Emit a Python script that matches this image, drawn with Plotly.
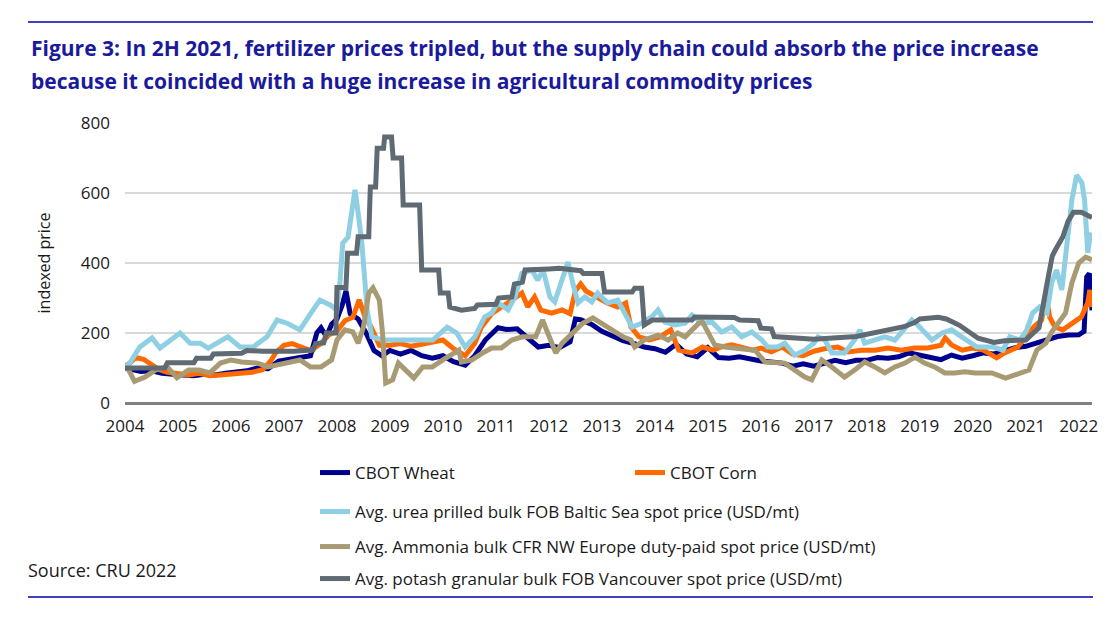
import plotly.graph_objects as go

# ---------------- data ----------------
wheat_x = [2004.0, 2004.15, 2004.3, 2004.5, 2004.7, 2004.9, 2005.1, 2005.3, 2005.5, 2005.7, 2005.9,
           2006.1, 2006.3, 2006.5, 2006.7, 2006.9, 2007.1, 2007.3, 2007.5, 2007.62, 2007.7, 2007.8,
           2007.9, 2008.0, 2008.1, 2008.17, 2008.25, 2008.4, 2008.55, 2008.7, 2008.85, 2009.0, 2009.2,
           2009.4, 2009.6, 2009.8, 2010.0, 2010.2, 2010.42, 2010.6, 2010.8, 2011.04, 2011.2, 2011.4,
           2011.6, 2011.8, 2012.0, 2012.2, 2012.4, 2012.5, 2012.6, 2012.8, 2013.0, 2013.2, 2013.4,
           2013.6, 2013.8, 2014.0, 2014.2, 2014.4, 2014.6, 2014.8, 2015.0, 2015.2, 2015.4, 2015.6,
           2015.8, 2016.0, 2016.2, 2016.4, 2016.6, 2016.8, 2017.0, 2017.2, 2017.4, 2017.6, 2017.8,
           2018.0, 2018.2, 2018.4, 2018.6, 2018.8, 2019.0, 2019.2, 2019.4, 2019.6, 2019.8, 2020.0,
           2020.2, 2020.4, 2020.6, 2020.8, 2021.0, 2021.2, 2021.4, 2021.6, 2021.8, 2022.0, 2022.1,
           2022.15, 2022.2, 2022.25]
wheat_y = [100, 95, 90, 92, 85, 82, 80, 78, 82, 80, 85,
           88, 92, 100, 98, 120, 125, 130, 135, 200, 215, 190,
           225, 240, 280, 320, 255, 240, 200, 150, 135, 150, 140,
           150, 135, 128, 135, 118, 108, 135, 180, 215, 210, 212,
           185, 160, 165, 158, 175, 240, 238, 225, 205, 190, 178,
           170, 160, 155, 145, 168, 140, 132, 158, 130, 128, 132,
           125, 120, 117, 114, 105, 112, 105, 114, 122, 115, 122,
           122, 130, 128, 132, 143, 137, 132, 124, 137, 128, 135,
           143, 140, 150, 158, 162, 172, 180, 190, 194, 195, 205,
           360, 370, 265]

corn_x = [2004.0, 2004.1, 2004.2, 2004.35, 2004.5, 2004.65, 2004.8, 2005.0, 2005.2, 2005.4, 2005.6,
          2005.8, 2006.0, 2006.2, 2006.4, 2006.6, 2006.75, 2006.85, 2007.0, 2007.15, 2007.3, 2007.5,
          2007.7, 2007.85, 2008.0, 2008.15, 2008.3, 2008.42, 2008.52, 2008.65, 2008.8, 2009.0, 2009.2,
          2009.4, 2009.6, 2009.8, 2010.0, 2010.2, 2010.42, 2010.6, 2010.72, 2010.92, 2011.1, 2011.3,
          2011.49, 2011.6, 2011.73, 2011.85, 2012.05, 2012.25, 2012.4, 2012.5, 2012.6, 2012.7, 2012.9,
          2013.1, 2013.3, 2013.45, 2013.55, 2013.7, 2013.9, 2014.1, 2014.3, 2014.45, 2014.7, 2014.9,
          2015.1, 2015.25, 2015.45, 2015.65, 2015.85, 2016.0, 2016.2, 2016.4, 2016.6, 2016.8, 2017.0,
          2017.2, 2017.45, 2017.65, 2017.9, 2018.15, 2018.4, 2018.65, 2018.9, 2019.15, 2019.4, 2019.48,
          2019.6, 2019.8, 2020.0, 2020.2, 2020.45, 2020.6, 2020.85, 2021.0, 2021.15, 2021.3, 2021.38,
          2021.45, 2021.55, 2021.7, 2021.9, 2022.05, 2022.17, 2022.21, 2022.25]
corn_y = [105, 115, 130, 125, 110, 95, 88, 85, 80, 85, 78,
          80, 82, 85, 88, 95, 120, 145, 165, 170, 160, 150,
          170, 195, 205, 235, 245, 295, 250, 215, 165, 165, 170,
          162, 168, 175, 180, 155, 135, 170, 215, 255, 275, 294,
          314, 275, 303, 265, 257, 266, 255, 320, 340, 320, 303,
          286, 274, 286, 217, 189, 180, 189, 209, 151, 143, 160,
          151, 160, 166, 160, 151, 157, 146, 160, 140, 135, 148,
          155, 160, 146, 151, 151, 157, 151, 157, 157, 165, 186,
          166, 151, 157, 151, 129, 143, 160, 189, 217, 237, 314,
          246, 217, 209, 228, 246, 286, 323, 274]

urea_x = [2004.0, 2004.09, 2004.28, 2004.51, 2004.66, 2004.79, 2005.04, 2005.23, 2005.42, 2005.57,
          2005.74, 2005.94, 2006.17, 2006.42, 2006.68, 2006.87, 2007.06, 2007.3, 2007.55, 2007.68,
          2007.87, 2008.0, 2008.06, 2008.11, 2008.21, 2008.28, 2008.34, 2008.4, 2008.47, 2008.57,
          2008.66, 2008.87, 2009.19, 2009.51, 2009.81, 2010.08, 2010.26, 2010.42, 2010.6, 2010.79,
          2010.92, 2011.04, 2011.23, 2011.36, 2011.49, 2011.68, 2011.79, 2011.89, 2012.02, 2012.11,
          2012.25, 2012.3, 2012.36, 2012.45, 2012.55, 2012.68, 2012.81, 2012.92, 2013.11, 2013.3,
          2013.43, 2013.57, 2013.75, 2013.94, 2014.06, 2014.19, 2014.38, 2014.57, 2014.7, 2014.89,
          2015.08, 2015.26, 2015.45, 2015.64, 2015.83, 2016.02, 2016.13, 2016.32, 2016.45, 2016.64,
          2016.83, 2017.0, 2017.08, 2017.21, 2017.34, 2017.58, 2017.77, 2017.87, 2017.96, 2018.15,
          2018.34, 2018.53, 2018.72, 2018.85, 2018.96, 2019.09, 2019.23, 2019.42, 2019.6, 2019.79,
          2019.98, 2020.08, 2020.38, 2020.57, 2020.7, 2020.89, 2021.02, 2021.13, 2021.26, 2021.4,
          2021.49, 2021.58, 2021.68, 2021.77, 2021.87, 2021.96, 2022.06, 2022.11, 2022.17, 2022.21,
          2022.25]
urea_y = [100, 114, 160, 186, 157, 171, 200, 171, 171, 157,
          171, 189, 160, 160, 189, 237, 228, 209, 266, 294,
          280, 266, 351, 457, 474, 551, 609, 543, 457, 266,
          189, 180, 180, 177, 180, 217, 200, 160, 189, 246,
          257, 286, 266, 303, 371, 380, 351, 380, 303, 289,
          351, 371, 403, 343, 286, 303, 289, 314, 286, 294,
          257, 217, 228, 246, 266, 231, 223, 228, 251, 228,
          231, 203, 217, 189, 203, 180, 160, 160, 171, 137,
          151, 171, 189, 180, 143, 143, 180, 209, 171, 180,
          189, 180, 217, 237, 223, 200, 180, 200, 209, 189,
          171, 160, 160, 151, 189, 180, 209, 257, 274, 257,
          343, 380, 323, 437, 580, 651, 629, 580, 429, 474,
          486]

ammonia_x = [2004.0, 2004.07, 2004.18, 2004.38, 2004.57, 2004.8, 2004.98, 2005.2, 2005.4, 2005.6,
             2005.8, 2006.0, 2006.2, 2006.5, 2006.7, 2006.9, 2007.1, 2007.3, 2007.5, 2007.7,
             2007.9, 2008.0, 2008.15, 2008.3, 2008.4, 2008.5, 2008.6, 2008.68, 2008.8, 2008.86,
             2008.92, 2009.05, 2009.16, 2009.3, 2009.45, 2009.62, 2009.8, 2010.0, 2010.2, 2010.3,
             2010.35, 2010.55, 2010.75, 2010.92, 2011.1, 2011.3, 2011.5, 2011.75, 2011.88, 2011.98,
             2012.13, 2012.25, 2012.45, 2012.64, 2012.83, 2013.0, 2013.2, 2013.4, 2013.55, 2013.62,
             2013.8, 2014.06, 2014.25, 2014.43, 2014.57, 2014.7, 2014.83, 2014.9, 2015.0, 2015.13,
             2015.32, 2015.51, 2015.7, 2015.89, 2016.08, 2016.26, 2016.45, 2016.64, 2016.83, 2016.96,
             2017.15, 2017.34, 2017.58, 2017.77, 2017.96, 2018.15, 2018.34, 2018.53, 2018.72, 2018.91,
             2019.09, 2019.28, 2019.47, 2019.66, 2019.85, 2020.04, 2020.36, 2020.62, 2020.87, 2021.06,
             2021.21, 2021.38, 2021.49, 2021.62, 2021.75, 2021.87, 2022.0, 2022.13, 2022.25]
ammonia_y = [100, 94, 62, 74, 94, 103, 72, 94, 94, 86,
             114, 123, 117, 114, 103, 109, 114, 123, 103, 103,
             123, 180, 209, 203, 171, 217, 314, 329, 294, 200,
             57, 66, 114, 94, 71, 103, 103, 123, 143, 151,
             117, 123, 143, 157, 157, 180, 189, 189, 237, 200,
             143, 171, 200, 228, 243, 228, 209, 189, 180, 160,
             180, 194, 180, 200, 189, 209, 228, 231, 200, 166,
             160, 157, 157, 151, 117, 114, 114, 94, 74, 66,
             123, 103, 74, 94, 117, 103, 86, 103, 114, 131,
             114, 103, 86, 86, 89, 86, 86, 71, 86, 94,
             151, 171, 203, 228, 257, 343, 400, 417, 409]

potash_x = [2004.0, 2004.75, 2004.8, 2005.3, 2005.35, 2005.62, 2005.67, 2006.2, 2006.3, 2006.6,
            2007.2, 2007.55, 2007.6, 2007.75, 2007.8, 2007.98, 2008.0, 2008.17, 2008.2, 2008.37,
            2008.4, 2008.6, 2008.63, 2008.73, 2008.76, 2008.88, 2008.9, 2009.03, 2009.06, 2009.22,
            2009.25, 2009.56, 2009.6, 2009.92, 2009.95, 2010.1, 2010.13, 2010.35, 2010.6, 2010.65,
            2011.0, 2011.05, 2011.3, 2011.35, 2011.5, 2011.55, 2012.0, 2012.2, 2012.6, 2012.65,
            2013.0, 2013.05, 2013.57, 2013.62, 2013.75, 2013.8, 2013.95, 2014.7, 2014.75, 2015.5,
            2015.6, 2015.95, 2016.0, 2016.2, 2016.25, 2016.6, 2017.0, 2017.8, 2018.1, 2018.4,
            2018.7, 2018.9, 2019.0, 2019.35, 2019.5, 2019.75, 2019.95, 2020.1, 2020.4, 2020.6,
            2021.0, 2021.25, 2021.4, 2021.5, 2021.55, 2021.7, 2021.8, 2021.9, 2022.05, 2022.25]
potash_y = [100, 100, 115, 115, 128, 128, 140, 142, 150, 148,
            148, 152, 170, 172, 200, 200, 330, 330, 428, 428,
            475, 475, 617, 617, 728, 728, 760, 760, 700, 700,
            566, 566, 380, 380, 314, 314, 274, 265, 270, 280,
            282, 300, 303, 340, 345, 380, 383, 385, 378, 370,
            370, 317, 317, 328, 328, 223, 237, 237, 246, 244,
            237, 235, 214, 212, 190, 185, 182, 190, 200, 210,
            218, 230, 240, 245, 240, 222, 200, 185, 173, 178,
            180, 215, 340, 420, 435, 475, 520, 545, 545, 530]

series_names = ["CBOT Wheat", "CBOT Corn",
                "Avg. urea prilled bulk FOB Baltic Sea spot price (USD/mt)",
                "Avg. Ammonia bulk CFR NW Europe duty-paid spot price (USD/mt)",
                "Avg. potash granular bulk FOB Vancouver spot price (USD/mt)"]
series_colors = ["#00008F", "#FF6A00", "#8ECFE4", "#A89B74", "#5F6A72"]
year_ticks = list(range(2004, 2023))
y_ticks = [0, 200, 400, 600, 800]

# ---------------- layout geometry ----------------
# The page body has an 8px margin, so the figure starts at page (8, 8).
OFF = 8
W, H = 1118 - 2 * OFF, 620 - 2 * OFF
PLOT_L, PLOT_R, PLOT_T, PLOT_B = 125, 1092, 123, 403   # page pixels of the plot area
L, R = PLOT_L - OFF, W - (PLOT_R - OFF)
T, B = PLOT_T - OFF, H - (PLOT_B - OFF)
PW, PH = PLOT_R - PLOT_L, PLOT_B - PLOT_T


def px(xp):  # page x pixel -> paper coordinate
    return (xp - PLOT_L) / PW


def py(yp):  # page y pixel -> paper coordinate
    return (PLOT_B - yp) / PH


FONT = "Open Sans"
TEXT = "#1a1a1a"
TITLE_BLUE = "#1A1A9C"
RULE_BLUE = "#0000A8"

fig = go.Figure()
xs = [wheat_x, corn_x, urea_x, ammonia_x, potash_x]
ys = [wheat_y, corn_y, urea_y, ammonia_y, potash_y]
legends = ["legend", "legend2", "legend3", "legend4", "legend5"]
for name, col, x, y, lg in zip(series_names, series_colors, xs, ys, legends):
    fig.add_trace(go.Scatter(x=x, y=y, mode="lines", name=name,
                             line=dict(color=col, width=5), legend=lg))

leg_common = dict(font=dict(family=FONT, size=17, color=TEXT),
                  bgcolor="rgba(0,0,0,0)", xanchor="left", yanchor="middle",
                  xref="paper", yref="paper", itemwidth=30)

fig.update_layout(
    width=W, height=H,
    margin=dict(l=L, r=R, t=T, b=B),
    paper_bgcolor="white", plot_bgcolor="white",
    font=dict(family=FONT, size=17, color=TEXT),
    showlegend=True,
    legend=dict(x=px(315), y=py(473), **leg_common),
    legend2=dict(x=px(630), y=py(473), **leg_common),
    legend3=dict(x=px(315), y=py(512), **leg_common),
    legend4=dict(x=px(315), y=py(547), **leg_common),
    legend5=dict(x=px(315), y=py(579), **leg_common),
    xaxis=dict(range=[2004, 2022.25], tickvals=year_ticks, ticktext=[str(v) for v in year_ticks],
               showgrid=False, zeroline=False, showline=False, ticks="",
               tickfont=dict(family=FONT, size=17, color=TEXT), ticklabelstandoff=11,
               fixedrange=True),
    yaxis=dict(range=[0, 800], tickvals=y_ticks, showgrid=True, gridcolor="#D9D9D9", gridwidth=1.5,
               zeroline=True, zerolinecolor="#808080", zerolinewidth=2.5, showline=False, ticks="",
               tickfont=dict(family=FONT, size=17, color=TEXT), ticklabelstandoff=14,
               title=dict(text="indexed price", font=dict(family=FONT, size=16, color=TEXT),
                          standoff=26),
               fixedrange=True),
)

# title (two lines) and source
fig.add_annotation(text="Figure 3: In 2H 2021, fertilizer prices tripled, but the supply chain could absorb the price increase",
                   xref="paper", yref="paper", x=px(29), y=py(48), xanchor="left", yanchor="middle",
                   showarrow=False, font=dict(family=FONT, size=21, color=TITLE_BLUE, weight="bold"))
fig.add_annotation(text="because it coincided with a huge increase in agricultural commodity prices",
                   xref="paper", yref="paper", x=px(29), y=py(81), xanchor="left", yanchor="middle",
                   showarrow=False, font=dict(family=FONT, size=21, color=TITLE_BLUE, weight="bold"))
fig.add_annotation(text="Source: CRU 2022", xref="paper", yref="paper", x=px(26), y=py(570),
                   xanchor="left", yanchor="middle", showarrow=False,
                   font=dict(family=FONT, size=18, color=TEXT))

# horizontal rules
for yp in (22, 597):
    fig.add_shape(type="line", xref="paper", yref="paper", x0=px(28), x1=px(1093), y0=py(yp), y1=py(yp),
                  line=dict(color=RULE_BLUE, width=1.5))

fig.write_html("out.html")
